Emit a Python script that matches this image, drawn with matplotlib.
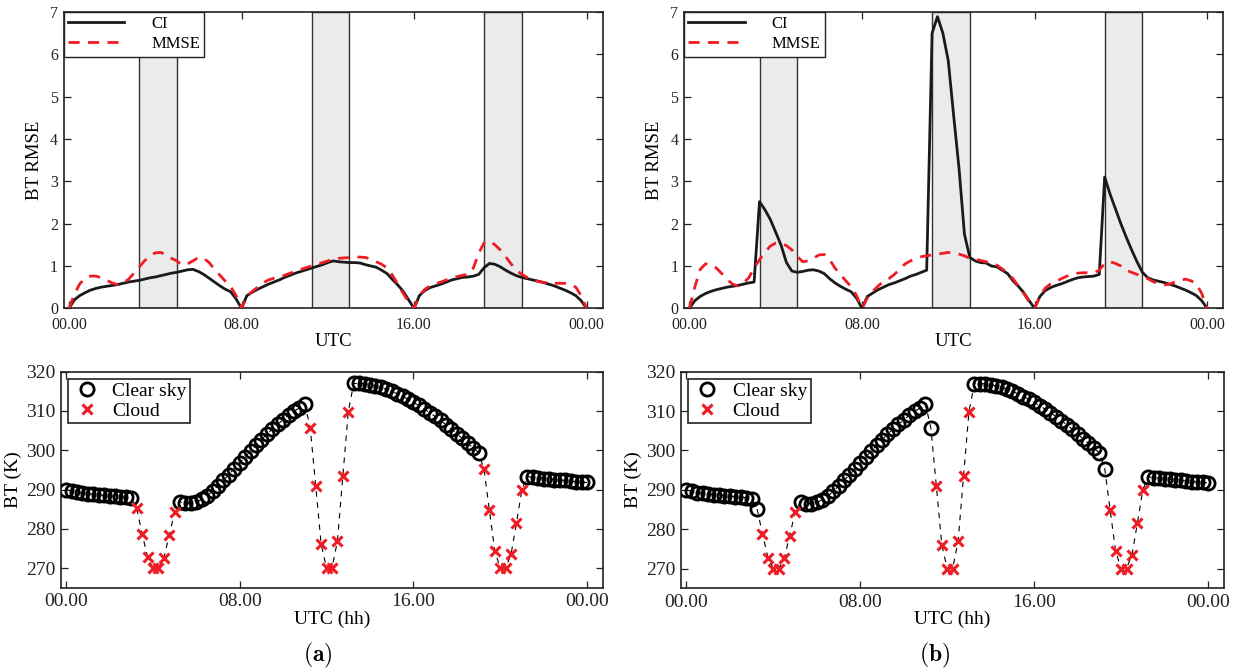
import matplotlib
matplotlib.use("Agg")
import matplotlib.pyplot as plt
import numpy as np

plt.rcParams['font.family'] = ['Liberation Serif', 'DejaVu Serif']
plt.rcParams['mathtext.fontset'] = 'cm'

# ---------------- data (15-min steps, 0..96) ----------------
steps = list(range(97))
tick_pos = [0, 32, 64, 96]
tick_labels = ['00.00', '08.00', '16.00', '00.00']

# shaded cloud windows (step ranges)
bands = [(13, 20), (45, 52), (77, 84)]

ci_a = [0, 0.2, 0.3, 0.37, 0.43, 0.47, 0.5, 0.52, 0.54, 0.56, 0.59, 0.62, 0.64,
        0.66, 0.69, 0.72, 0.74, 0.77, 0.8, 0.83, 0.85, 0.88, 0.91, 0.92, 0.87,
        0.8, 0.71, 0.62, 0.53, 0.45, 0.39, 0.22, 0,
        0.3, 0.38, 0.45, 0.51, 0.57, 0.62, 0.67, 0.73, 0.78, 0.83, 0.87, 0.91,
        0.95, 0.99, 1.03, 1.08, 1.12, 1.1, 1.09, 1.08, 1.08, 1.07, 1.03, 1.0,
        0.97, 0.9, 0.82, 0.68, 0.55, 0.4, 0.2, 0,
        0.3, 0.42, 0.49, 0.53, 0.57, 0.62, 0.67, 0.7, 0.73, 0.74, 0.76, 0.8,
        0.96, 1.06, 1.04, 0.98, 0.9, 0.83, 0.77, 0.73, 0.7, 0.67, 0.64, 0.61,
        0.57, 0.53, 0.48, 0.43, 0.37, 0.3, 0.18, 0]

mmse_a = [0, 0.33, 0.58, 0.71, 0.76, 0.76, 0.72, 0.66, 0.6, 0.56, 0.6, 0.68, 0.82,
          0.97, 1.12, 1.24, 1.31, 1.32, 1.27, 1.18, 1.12, 1.02, 1.05, 1.12, 1.2,
          1.18, 1.08, 0.92, 0.78, 0.64, 0.51, 0.3, 0,
          0.28, 0.4, 0.5, 0.6, 0.67, 0.71, 0.74, 0.78, 0.83, 0.87, 0.92, 0.96,
          1.0, 1.04, 1.08, 1.12, 1.16, 1.18, 1.19, 1.2, 1.21, 1.21, 1.2, 1.16,
          1.1, 1.04, 0.95, 0.78, 0.57, 0.35, 0.15, 0,
          0.3, 0.45, 0.53, 0.58, 0.62, 0.67, 0.71, 0.75, 0.78, 0.8, 0.95, 1.3,
          1.55, 1.6, 1.5, 1.38, 1.22, 1.05, 0.9, 0.8, 0.73, 0.68, 0.64, 0.61,
          0.6, 0.59, 0.59, 0.59, 0.57, 0.5, 0.3, 0]

ci_b = [0, 0.18, 0.28, 0.35, 0.4, 0.44, 0.47, 0.5, 0.52, 0.54, 0.57, 0.6, 0.62,
        2.52, 2.33, 2.1, 1.8, 1.49, 1.08, 0.88, 0.85, 0.87, 0.9, 0.91, 0.88,
        0.82, 0.7, 0.6, 0.52, 0.45, 0.39, 0.24, 0,
        0.28, 0.36, 0.44, 0.5, 0.56, 0.6, 0.65, 0.7, 0.76, 0.8, 0.85, 0.9,
        6.5, 6.89, 6.5, 5.85, 4.55, 3.3, 1.75, 1.2, 1.12, 1.08, 1.07, 1.0,
        0.98, 0.9, 0.82, 0.65, 0.52, 0.37, 0.18, 0,
        0.28, 0.42, 0.49, 0.54, 0.58, 0.63, 0.68, 0.72, 0.74, 0.75, 0.76, 0.8,
        3.1, 2.7, 2.35, 2.0, 1.68, 1.38, 1.1, 0.85, 0.72, 0.67, 0.64, 0.61,
        0.57, 0.53, 0.48, 0.43, 0.37, 0.3, 0.18, 0]

mmse_b = [0, 0.5, 0.92, 1.05, 1.04, 0.95, 0.82, 0.68, 0.57, 0.53, 0.6, 0.72, 0.95,
          1.15, 1.32, 1.47, 1.54, 1.54, 1.48, 1.38, 1.23, 1.1, 1.12, 1.18, 1.26,
          1.27, 1.15, 0.95, 0.8, 0.65, 0.51, 0.3, 0,
          0.24, 0.4, 0.53, 0.63, 0.7, 0.8, 0.92, 1.05, 1.12, 1.18, 1.22, 1.24,
          1.26, 1.28, 1.3, 1.32, 1.31, 1.28, 1.24, 1.18, 1.16, 1.13, 1.1, 1.05,
          1.02, 0.93, 0.83, 0.7, 0.53, 0.35, 0.15, 0,
          0.28, 0.48, 0.58, 0.64, 0.7, 0.76, 0.8, 0.83, 0.84, 0.84, 0.84, 0.9,
          1.06, 1.1, 1.06, 1.0, 0.9, 0.85, 0.8, 0.77, 0.7, 0.63, 0.58, 0.55,
          0.57, 0.62, 0.66, 0.69, 0.65, 0.58, 0.35, 0]

bt = [290.0, 289.6, 289.3, 289.1, 288.9, 288.8, 288.7, 288.5, 288.4, 288.3, 288.2, 288.0, 287.8,
      285.2, 278.8, 272.8, 270.0, 270.0, 272.6, 278.3, 284.3,
      286.8, 286.5, 286.5, 286.8, 287.5, 288.4, 289.6, 291.0, 292.4, 293.8, 295.3, 296.8,
      298.3, 299.8, 301.3, 302.7, 304.1, 305.4, 306.6, 307.8, 308.9, 309.9, 310.8, 311.8,
      305.6, 290.9, 276.1, 270.0, 270.0, 276.9, 293.4, 309.8,
      317.0, 317.0, 316.9, 316.7, 316.4, 316.0, 315.5, 315.0, 314.4, 313.7, 313.0, 312.2,
      311.4, 310.5, 309.6, 308.6, 307.6, 306.5, 305.4, 304.2, 303.0, 301.8, 300.6, 299.4,
      295.3, 284.8, 274.4, 270.0, 270.0, 273.5, 281.5, 290.0,
      293.3, 293.1, 293.0, 292.8, 292.7, 292.5, 292.4, 292.3, 292.1, 292.0, 291.9, 291.8]

cloud_steps_a = list(range(13, 21)) + list(range(45, 53)) + list(range(77, 85))
cloud_steps_b = list(range(14, 21)) + list(range(46, 53)) + list(range(78, 85))

# ---------------- figure ----------------
fig = plt.figure(figsize=(12.34, 6.70), dpi=100)
W, H = 1234.0, 670.0


def axes_px(l, t, r, b):
    return fig.add_axes([l / W, 1 - b / H, (r - l) / W, (b - t) / H])


def style(ax, fs, xpad):
    for s in ax.spines.values():
        s.set_linewidth(1.2)
        s.set_color('#222222')
    ax.tick_params(direction='in', top=True, right=True, length=5, width=0.9,
                   labelsize=fs, colors='#222222')
    ax.tick_params(axis='x', pad=xpad)
    ax.tick_params(axis='y', pad=4)
    ax.set_xticks(tick_pos)
    ax.set_xticklabels(tick_labels)
    ax.set_xlim(-1, 99)


def top_panel(ax, ci, mmse):
    for (a, b) in bands:
        ax.axvspan(a, b, facecolor='#ebebeb', edgecolor='#333333', lw=1.0, zorder=1)
    ax.plot(steps, ci, color='#1a1a1a', lw=2.0, label='CI', zorder=3)
    ax.plot(steps, mmse, color='#ee1c24', lw=2.0, ls='--', dashes=(4, 3),
            label='MMSE', zorder=4)
    ax.set_ylim(0, 7)
    ax.set_yticks(range(8))
    style(ax, 11.5, 6)
    ax.set_xlabel('UTC', fontsize=13.5, labelpad=0)
    ax.set_ylabel('BT RMSE', fontsize=13.5, labelpad=5)
    leg = ax.legend(loc='upper left', fontsize=12, frameon=True, fancybox=False,
                    framealpha=1, edgecolor='#222222', handlelength=3.4,
                    borderpad=0.25, labelspacing=0.25, borderaxespad=0.0,
                    handletextpad=1.6)
    leg.get_frame().set_linewidth(1.0)


def bottom_panel(ax, cloud_steps):
    ax.plot(steps, bt, color='k', lw=0.8, ls='--', dashes=(5, 5), zorder=2)
    cx = [s for s in steps if s in cloud_steps]
    cy = [bt[s] for s in cx]
    sx = [s for s in steps if s not in cloud_steps]
    sy = [bt[s] for s in sx]
    ax.plot(sx, sy, 'o', mfc='none', mec='k', ms=9.5, mew=2.0, label='Clear sky',
            zorder=3, ls='none')
    ax.plot(cx, cy, 'x', color='#ee1c24', ms=7, mew=2.2, label='Cloud',
            zorder=4, ls='none')
    ax.set_ylim(265, 320)
    ax.set_yticks(range(270, 321, 10))
    style(ax, 14, 4)
    ax.set_xlabel('UTC (hh)', fontsize=14, labelpad=0)
    ax.set_ylabel('BT (K)', fontsize=14, labelpad=3)
    leg = ax.legend(loc='upper left', fontsize=14, frameon=True, fancybox=False,
                    framealpha=1, edgecolor='#222222', borderpad=0.2,
                    labelspacing=0.1, borderaxespad=0.35, handletextpad=0.5,
                    handlelength=1.6)
    leg.get_frame().set_linewidth(1.2)


ax_tl = axes_px(63.6, 12, 602.7, 308.3)
ax_bl = axes_px(60.7, 371.7, 603.3, 587.7)
ax_tr = axes_px(684, 12, 1223.3, 308.3)
ax_br = axes_px(681, 371.7, 1224.3, 588.3)

top_panel(ax_tl, ci_a, mmse_a)
top_panel(ax_tr, ci_b, mmse_b)
bottom_panel(ax_bl, cloud_steps_a)
bottom_panel(ax_br, cloud_steps_b)

fig.text(318 / W, 1 - 655 / H, r'$(\mathbf{a})$', fontsize=17, ha='center', va='center')
fig.text(935 / W, 1 - 655 / H, r'$(\mathbf{b})$', fontsize=17, ha='center', va='center')

fig.savefig('out.png', dpi=100)
